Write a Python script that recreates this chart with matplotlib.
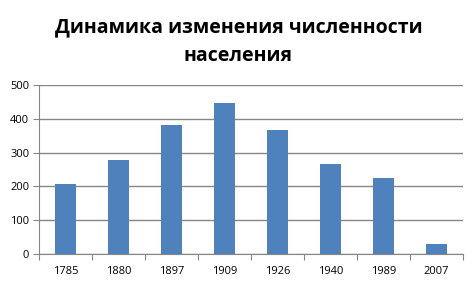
import matplotlib
matplotlib.use("Agg")
import matplotlib.pyplot as plt
import numpy as np

years = ["1785", "1880", "1897", "1909", "1926", "1940", "1989", "2007"]
population = [208, 277, 383, 448, 368, 267, 225, 30]
y_ticks = [0, 100, 200, 300, 400, 500]
title = "Динамика изменения численности\nнаселения"

plt.rcParams['font.family'] = ['Open Sans', 'DejaVu Sans']

fig = plt.figure(figsize=(4.77, 3.01), dpi=100)
# axes position in pixels: left 39, right 463, top 85, bottom 254
ax = fig.add_axes([39 / 477, (301 - 254) / 301, (463 - 39) / 477, (254 - 85) / 301])

x = np.arange(len(years))
ax.bar(x, population, width=0.4, color="#4f81bd", zorder=3)

ax.set_xlim(-0.5, len(years) - 0.5)
ax.set_ylim(0, 500)
ax.set_yticks(y_ticks)
ax.set_yticklabels([str(t) for t in y_ticks], fontsize=8)
ax.yaxis.grid(True, color="#868686", linewidth=1, zorder=0)

# category ticks between bars, labels centered
ax.set_xticks(np.arange(len(years) + 1) - 0.5)
ax.set_xticklabels([])
ax.set_xticks(x, minor=True)
ax.set_xticklabels(years, minor=True, fontsize=8)
ax.tick_params(axis="x", which="minor", length=0, pad=9)
ax.tick_params(axis="x", which="major", length=4, color="#868686", direction="out")
ax.tick_params(axis="y", length=4, color="#868686", direction="out", pad=3)

for side in ["top", "right"]:
    ax.spines[side].set_visible(False)
for side in ["left", "bottom"]:
    ax.spines[side].set_color("#868686")

fig.text(0.5, 0.862, title, ha="center", va="center", fontsize=14,
         fontweight="bold", linespacing=1.6)

fig.savefig("out.png", dpi=100, facecolor="white")
